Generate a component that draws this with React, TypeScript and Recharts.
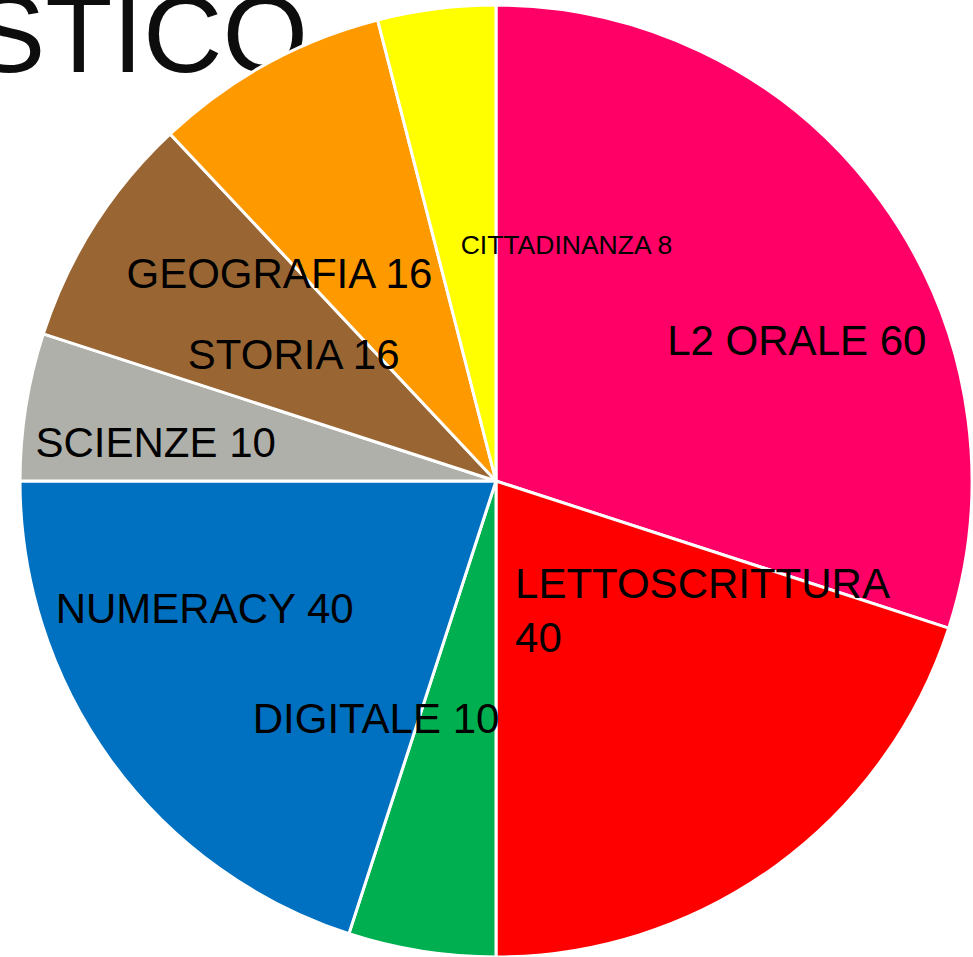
import React from 'react';
import { PieChart, Pie, Cell } from 'recharts';

const subjects = ['L2 ORALE', 'LETTOSCRITTURA', 'DIGITALE', 'NUMERACY', 'SCIENZE', 'STORIA', 'GEOGRAFIA', 'CITTADINANZA'];
const hours = [60, 40, 10, 40, 10, 16, 16, 8];
const sliceColors = ['#FF0066', '#FF0000', '#00B050', '#0070C0', '#B0B0AA', '#996633', '#FF9900', '#FFFF00'];

const data = subjects.map((name, i) => ({ name, value: hours[i] }));

// hand-placed label offsets from the pie centre (fractions of the radius), like the original
const labelSpots: Record<string, { dx: number; dy: number; size: number; anchor?: 'start' | 'middle'; wrap?: boolean }> = {
    'L2 ORALE': { dx: 0.632, dy: -0.265, size: 42 },
    LETTOSCRITTURA: { dx: 0.04, dy: 0.246, size: 42, anchor: 'start', wrap: true },
    DIGITALE: { dx: -0.252, dy: 0.529, size: 42 },
    NUMERACY: { dx: -0.612, dy: 0.298, size: 42 },
    SCIENZE: { dx: -0.715, dy: -0.05, size: 42 },
    STORIA: { dx: -0.425, dy: -0.235, size: 42 },
    GEOGRAFIA: { dx: -0.455, dy: -0.405, size: 42 },
    CITTADINANZA: { dx: 0.148, dy: -0.477, size: 26.5 },
};

const renderLabel = (props: any) => {
    const { cx, cy, outerRadius, name, value } = props;
    const spot = labelSpots[name];
    if (!spot) return null;
    const x = cx + spot.dx * outerRadius;
    const y = cy + spot.dy * outerRadius;
    return (
        <text
            x={x}
            y={y}
            fill="#000"
            fontSize={spot.size}
            fontFamily="'Liberation Sans', Arial, sans-serif"
            textAnchor={spot.anchor || 'middle'}
        >
            {spot.wrap ? (
                <>
                    <tspan x={x} y={y}>{name}</tspan>
                    <tspan x={x} y={y + 54}>{value}</tspan>
                </>
            ) : (
                `${name} ${value}`
            )}
        </text>
    );
};

export default function App() {
    return (
        <div style={{ position: 'absolute', left: 0, top: 0, width: 973, height: 957, overflow: 'hidden', background: '#fff' }}>
            <svg width={973} height={957} style={{ position: 'absolute', left: 0, top: 0 }}>
                <text x={308} y={72} textAnchor="end" fontSize={110} fontFamily="'Liberation Sans', Arial, sans-serif" fill="#0d0d0d">
                    STICO
                </text>
            </svg>
            <div style={{ position: 'absolute', left: 0, top: 0 }}>
                <PieChart width={973} height={957} margin={{ top: 0, right: 0, bottom: 0, left: 0 }}>
                    <Pie
                        data={data}
                        dataKey="value"
                        nameKey="name"
                        cx={496}
                        cy={481}
                        outerRadius={476}
                        startAngle={90}
                        endAngle={-270}
                        stroke="#fff"
                        strokeWidth={3}
                        label={renderLabel}
                        labelLine={false}
                        isAnimationActive={false}
                    >
                        {data.map((d, i) => (
                            <Cell key={d.name} fill={sliceColors[i]} />
                        ))}
                    </Pie>
                </PieChart>
            </div>
        </div>
    );
}
